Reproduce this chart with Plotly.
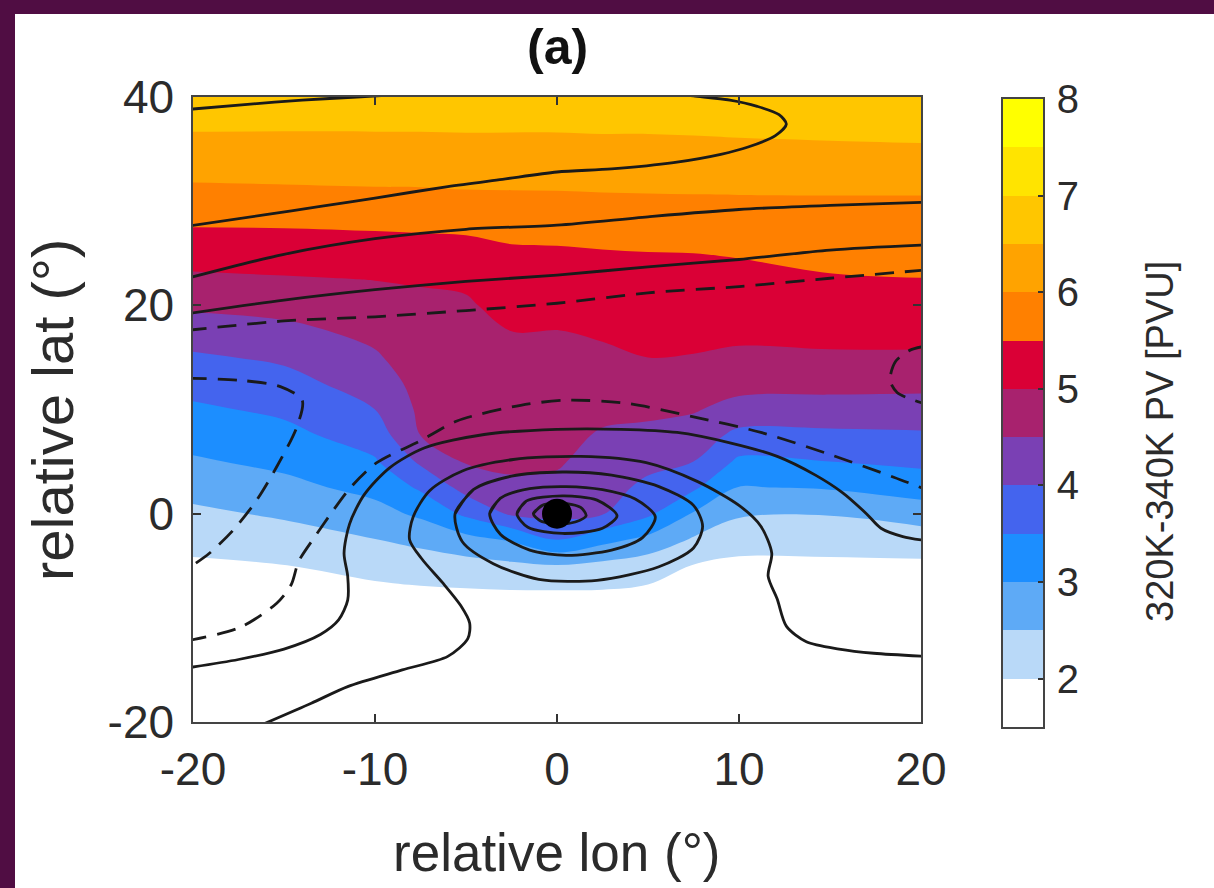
import plotly.graph_objects as go

# ---------------- data ----------------
lon_grid = [-20, -15, -10, -7.5, -5, -2.5, 0, 2.5, 5, 7.5, 10, 15, 20]
lat_grid = [-20, -15, -10, -7.5, -5, -2.5, 0, 2.5, 5, 7.5, 10, 12.5, 15,
            17.5, 20, 22.5, 25, 27.5, 30, 32.5, 35, 37.5, 40]

# 320K-340K PV [PVU], one row per latitude in lat_grid
pv_rows = [
    [1.70, 1.70, 1.70, 1.72, 1.72, 1.72, 1.72, 1.72, 1.72, 1.72, 1.72, 1.72, 1.72],
    [1.70, 1.72, 1.73, 1.75, 1.76, 1.76, 1.76, 1.76, 1.75, 1.74, 1.74, 1.74, 1.74],
    [1.75, 1.78, 1.80, 1.82, 1.84, 1.85, 1.85, 1.85, 1.82, 1.80, 1.78, 1.78, 1.78],
    [1.80, 1.85, 1.90, 1.93, 1.95, 1.97, 1.97, 1.97, 1.92, 1.88, 1.84, 1.84, 1.84],
    [1.93, 1.99, 2.14, 2.23, 2.31, 2.40, 2.47, 2.36, 2.21, 1.98, 1.92, 1.93, 1.92],
    [2.14, 2.28, 2.49, 2.64, 2.84, 3.05, 3.50, 3.15, 2.87, 2.44, 2.14, 2.14, 2.22],
    [2.40, 2.57, 2.83, 3.09, 3.60, 4.07, 4.14, 4.03, 3.59, 2.96, 2.57, 2.53, 2.76],
    [2.67, 2.86, 3.15, 3.57, 4.17, 4.43, 4.40, 4.20, 3.88, 3.58, 2.98, 3.04, 3.21],
    [2.94, 3.12, 3.45, 4.08, 4.54, 4.57, 4.55, 4.32, 4.14, 4.00, 3.41, 3.50, 3.61],
    [3.19, 3.36, 3.73, 4.50, 4.60, 4.66, 4.64, 4.45, 4.38, 4.28, 3.86, 3.89, 3.93],
    [3.42, 3.59, 4.00, 4.59, 4.67, 4.74, 4.73, 4.61, 4.60, 4.54, 4.33, 4.30, 4.29],
    [3.67, 3.83, 4.22, 4.67, 4.74, 4.83, 4.81, 4.76, 4.80, 4.76, 4.66, 4.65, 4.63],
    [3.93, 4.08, 4.44, 4.76, 4.81, 4.91, 4.90, 4.91, 5.00, 4.98, 4.92, 4.94, 4.94],
    [4.25, 4.37, 4.63, 4.84, 4.88, 5.00, 4.99, 5.06, 5.12, 5.12, 5.10, 5.13, 5.14],
    [4.59, 4.67, 4.82, 4.93, 4.95, 5.14, 5.13, 5.19, 5.24, 5.25, 5.24, 5.30, 5.32],
    [4.91, 4.96, 5.01, 5.03, 5.07, 5.28, 5.28, 5.33, 5.36, 5.37, 5.38, 5.46, 5.49],
    [5.21, 5.24, 5.27, 5.29, 5.32, 5.43, 5.44, 5.47, 5.49, 5.50, 5.53, 5.63, 5.65],
    [5.50, 5.51, 5.54, 5.56, 5.58, 5.63, 5.65, 5.68, 5.70, 5.72, 5.74, 5.79, 5.80],
    [5.80, 5.82, 5.85, 5.86, 5.88, 5.89, 5.90, 5.92, 5.93, 5.94, 5.95, 5.95, 5.95],
    [6.08, 6.10, 6.12, 6.12, 6.15, 6.15, 6.15, 6.16, 6.17, 6.17, 6.16, 6.18, 6.18],
    [6.32, 6.33, 6.34, 6.34, 6.35, 6.34, 6.34, 6.36, 6.36, 6.37, 6.40, 6.42, 6.44],
    [6.59, 6.58, 6.58, 6.58, 6.59, 6.59, 6.59, 6.60, 6.60, 6.62, 6.63, 6.67, 6.70],
    [6.85, 6.85, 6.85, 6.85, 6.85, 6.85, 6.85, 6.86, 6.86, 6.87, 6.88, 6.90, 6.95],
]

pv_levels = [2.0, 2.5, 3.0, 3.5, 4.0, 4.5, 5.0, 5.5, 6.0, 6.5, 7.0, 7.5]
pv_band_centers = [1.75, 2.25, 2.75, 3.25, 3.75, 4.25, 4.75, 5.25, 5.75, 6.25, 6.75, 7.25, 7.75]
pv_colors = ["#FFFFFF", "#B9D9F8", "#5EAAF6", "#1C8EFF", "#4464EE", "#7A40B4",
             "#A8226E", "#DA0036", "#FF8000", "#FFA300", "#FFC600", "#FFE400", "#FFFF00"]
cbar_ticks = [2, 3, 4, 5, 6, 7, 8]

x_ticks = [-20, -10, 0, 10, 20]
y_ticks = [-20, 0, 20, 40]

# overlaid contour lines (relative lon, relative lat); solid = positive, dashed = negative
jet_top_left_lon = [-20.3, -17, -14, -11, -8]
jet_top_left_lat = [38.8, 39.3, 39.7, 40.0, 40.3]
jet_core_lon = [-20.3, -16, -13, -10, -6, -3, 0, 3, 6.4, 9, 10.5, 12.0, 12.6, 12.2, 11, 9.5, 7.5, 6]
jet_core_lat = [27.6, 28.7, 29.5, 30.3, 31.4, 32.1, 32.8, 33.1, 33.7, 34.5, 35.2, 36.3, 37.4, 38.3, 39.1, 39.7, 40.1, 40.4]
jet_mid_lon = [-20.3, -15, -10, -5, 0, 5, 10, 15, 20.3]
jet_mid_lat = [22.6, 24.9, 26.4, 27.3, 27.7, 28.5, 29.2, 29.6, 29.9]
jet_low_lon = [-20.3, -15, -10, -5, 0, 5, 10, 15, 20.3]
jet_low_lat = [19.2, 20.5, 21.5, 22.3, 22.9, 23.7, 24.4, 25.3, 25.8]
neg_band_lon = [-20.3, -15, -10, -5, 0, 5, 10, 15, 20.3]
neg_band_lat = [17.6, 18.5, 18.9, 19.5, 20.2, 21.2, 21.8, 22.6, 23.4]
neg_right_lon = [20.3, 19.4, 18.6, 18.3, 18.7, 19.6, 20.3]
neg_right_lat = [16.1, 15.7, 14.6, 12.8, 11.6, 10.9, 10.5]
neg_left_lon = [-20.3, -17.4, -15.2, -14.0, -14.3, -15.4, -16.5, -17.8, -19.1, -20.3]
neg_left_lat = [13.0, 12.8, 12.2, 10.9, 8.3, 4.5, 1.3, -1.6, -3.8, -5.3]
neg_arc_lon = [-20.3, -17.4, -15.4, -14.6, -14.2, -13.3, -12.3, -11.3, -9.9, -7.5, -5.5,
               -2, 0.5, 3.8, 7.5, 11.2, 14.8, 18.5, 20.3]
neg_arc_lat = [-12.2, -10.9, -8.6, -6.8, -4.6, -2.2, 0.3, 2.6, 4.9, 7.0, 8.9,
               10.4, 10.9, 10.6, 9.3, 7.8, 5.8, 3.5, 2.3]
pos_outer_lon = [-20.3, -17.5, -15, -13, -12, -11.5, -11.5, -11.7, -11.4, -10.6, -9.2, -7.3,
                 -4, 0, 3.5, 6.6, 9.5, 12.1, 14.2, 15.7, 17.0, 17.8, 19, 20.3]
pos_outer_lat = [-14.8, -14.0, -13.0, -11.6, -10.2, -8.3, -6.0, -3.8, -1.0, 1.8, 4.4, 6.3,
                 7.6, 8.1, 8.1, 7.8, 6.8, 5.5, 3.7, 2.0, 0.0, -1.4, -2.2, -2.6]
pos_second_lon = [-16.4, -13.5, -11.5, -8.5, -6.0, -4.9, -4.8, -5.3, -6.3, -7.4, -8.1, -7.9,
                  -7.0, -5.2, -2.4, 1.3, 4.9, 7.7, 10.0, 11.2, 11.8, 11.6, 12.1, 12.6,
                  13.7, 15.5, 17.4, 20.3]
pos_second_lat = [-20.4, -18.2, -16.6, -15.0, -13.7, -12.0, -10.5, -8.8, -6.6, -4.4, -2.5, -0.3,
                  2.2, 4.1, 5.2, 5.5, 4.9, 3.1, 0.8, -1.2, -3.8, -6.0, -8.2, -10.8,
                  -12.3, -13.0, -13.4, -13.7]
ring3_lon = [-5.6, -4.6, -2.5, 0.3, 3.0, 5.6, 7.5, 8.0, 7.5, 5.6, 2.2, -1, -3.5, -5.2, -5.6, -4.6]
ring3_lat = [0, 2.3, 3.6, 4.0, 3.7, 2.6, 0.8, -1.2, -3.3, -5.1, -6.4, -6.3, -4.8, -2.7, 0, 2.3]
ring2_lon = [-3.7, -3.1, -1.5, 0.5, 2.5, 4.3, 5.4, 4.7, 3, 0.5, -1.5, -3.1, -3.7, -3.1]
ring2_lat = [0, 1.5, 2.4, 2.6, 2.3, 1.4, -0.3, -2.3, -3.5, -4.0, -3.5, -2, 0, 1.5]
ring1_lon = [-2.2, -1.7, 0.3, 2.2, 3.3, 2.5, 0.3, -1.6, -2.2, -1.7]
ring1_lat = [0, 1.2, 1.7, 1.3, -0.2, -1.4, -1.9, -1.3, 0, 1.2]
ring0_lon = [-1.3, -0.8, 0.3, 1.3, 1.6, 1.0, 0.2, -0.9, -1.3, -0.8]
ring0_lat = [0, 0.8, 1.0, 0.6, -0.2, -0.8, -1.0, -0.7, 0, 0.8]
center_lon = [0]
center_lat = [0]

solid_lines = [
    (jet_top_left_lon, jet_top_left_lat), (jet_core_lon, jet_core_lat),
    (jet_mid_lon, jet_mid_lat), (jet_low_lon, jet_low_lat),
    (pos_outer_lon, pos_outer_lat), (pos_second_lon, pos_second_lat),
    (ring3_lon, ring3_lat), (ring2_lon, ring2_lat), (ring1_lon, ring1_lat), (ring0_lon, ring0_lat),
]
dashed_lines = [
    (neg_band_lon, neg_band_lat), (neg_right_lon, neg_right_lat),
    (neg_left_lon, neg_left_lat), (neg_arc_lon, neg_arc_lat),
]

# ---------------- figure ----------------
W, H = 1214, 888
FONT = "Liberation Sans, Arial, Helvetica, sans-serif"
TXT = "#2b2b2b"
FRAME = "#500d43"
n = len(pv_colors)
colorscale = [[i / (n - 1), c] for i, c in enumerate(pv_colors)]

fig = go.Figure()

fig.add_trace(go.Contour(
    x=lon_grid, y=lat_grid, z=pv_rows,
    autocontour=False,
    contours=dict(start=pv_levels[0], end=pv_levels[-1], size=pv_levels[1] - pv_levels[0],
                  coloring="fill", showlines=False),
    colorscale=colorscale, showscale=False,
    line=dict(width=0, smoothing=1.0),
    hoverinfo="skip", xaxis="x", yaxis="y",
))

for lo, la in solid_lines:
    fig.add_trace(go.Scatter(x=lo, y=la, mode="lines",
                             line=dict(color="#1a1a1a", width=2.8, shape="spline", smoothing=0.8),
                             showlegend=False, hoverinfo="skip", xaxis="x", yaxis="y"))
for lo, la in dashed_lines:
    fig.add_trace(go.Scatter(x=lo, y=la, mode="lines",
                             line=dict(color="#1a1a1a", width=2.8, shape="spline", smoothing=0.8,
                                       dash="19px,11px"),
                             showlegend=False, hoverinfo="skip", xaxis="x", yaxis="y"))

fig.add_trace(go.Scatter(x=center_lon, y=center_lat, mode="markers",
                         marker=dict(color="black", size=30, line=dict(width=0)),
                         showlegend=False, hoverinfo="skip", xaxis="x", yaxis="y"))

# colour bar drawn as a heat map on its own axes
fig.add_trace(go.Heatmap(
    x=[0], y=pv_band_centers, z=[[v] for v in pv_band_centers],
    colorscale=colorscale, zmin=pv_band_centers[0], zmax=pv_band_centers[-1],
    showscale=False, hoverinfo="skip", xaxis="x2", yaxis="y2",
))

px_x = lambda p: p / W
px_y = lambda p: 1 - p / H

tickfont = dict(family=FONT, size=46, color=TXT)
cbfont = dict(family=FONT, size=40, color=TXT)
common = dict(showgrid=False, zeroline=False, automargin=False, showline=True,
              linecolor="#444", linewidth=1.5, tickcolor="#333", tickwidth=1.5)
fig.update_layout(
    template="none",
    width=W, height=H,
    margin=dict(l=0, r=0, t=0, b=0, pad=0, autoexpand=False),
    paper_bgcolor=FRAME,
    plot_bgcolor="white",
    font=dict(family=FONT, color=TXT),
    showlegend=False,
    xaxis=dict(domain=[px_x(193), px_x(921)], range=[-20, 20], tickvals=x_ticks,
               ticktext=[str(v) for v in x_ticks], ticks="inside", ticklen=8, mirror="ticks",
               tickfont=tickfont, ticklabelstandoff=6, anchor="y", **common),
    yaxis=dict(domain=[px_y(722), px_y(97)], range=[-20, 40], tickvals=y_ticks,
               ticktext=[str(v) for v in y_ticks], ticks="inside", ticklen=8, mirror="ticks",
               tickfont=tickfont, ticklabelstandoff=8, anchor="x", **common),
    xaxis2=dict(domain=[px_x(1003), px_x(1043)], range=[-0.5, 0.5], showticklabels=False,
                ticks="", mirror=True, anchor="y2", **common),
    yaxis2=dict(domain=[px_y(727), px_y(99)], range=[1.5, 8], side="right", tickvals=cbar_ticks,
                ticktext=[str(v) for v in cbar_ticks], ticks="inside", ticklen=5, mirror=True,
                tickfont=cbfont, ticklabelstandoff=4, anchor="x2", **common),
    shapes=[dict(type="rect", xref="paper", yref="paper", x0=px_x(15), x1=1.0, y0=0.0,
                 y1=px_y(14), fillcolor="white", line=dict(width=0), layer="below")],
    annotations=[
        dict(text="<b>(a)</b>", x=px_x(557), y=px_y(47), xref="paper", yref="paper",
             showarrow=False, font=dict(family=FONT, size=50, color="#111"),
             xanchor="center", yanchor="middle"),
        dict(text="relative lon (°)", x=px_x(557), y=px_y(852), xref="paper", yref="paper",
             showarrow=False, font=dict(family=FONT, size=53, color=TXT),
             xanchor="center", yanchor="middle"),
        dict(text="relative lat (°)", x=px_x(52), y=px_y(410), xref="paper", yref="paper",
             showarrow=False, textangle=-90, font=dict(family=FONT, size=58, color=TXT),
             xanchor="center", yanchor="middle"),
        dict(text="320K-340K PV [PVU]", x=px_x(1160), y=px_y(442), xref="paper", yref="paper",
             showarrow=False, textangle=-90, font=dict(family=FONT, size=38, color=TXT),
             xanchor="center", yanchor="middle"),
    ],
)

fig.write_html(
    "out.html",
    config={"displayModeBar": False},
    post_script="document.body.style.margin='0px';document.body.style.background='%s';" % FRAME,
)
